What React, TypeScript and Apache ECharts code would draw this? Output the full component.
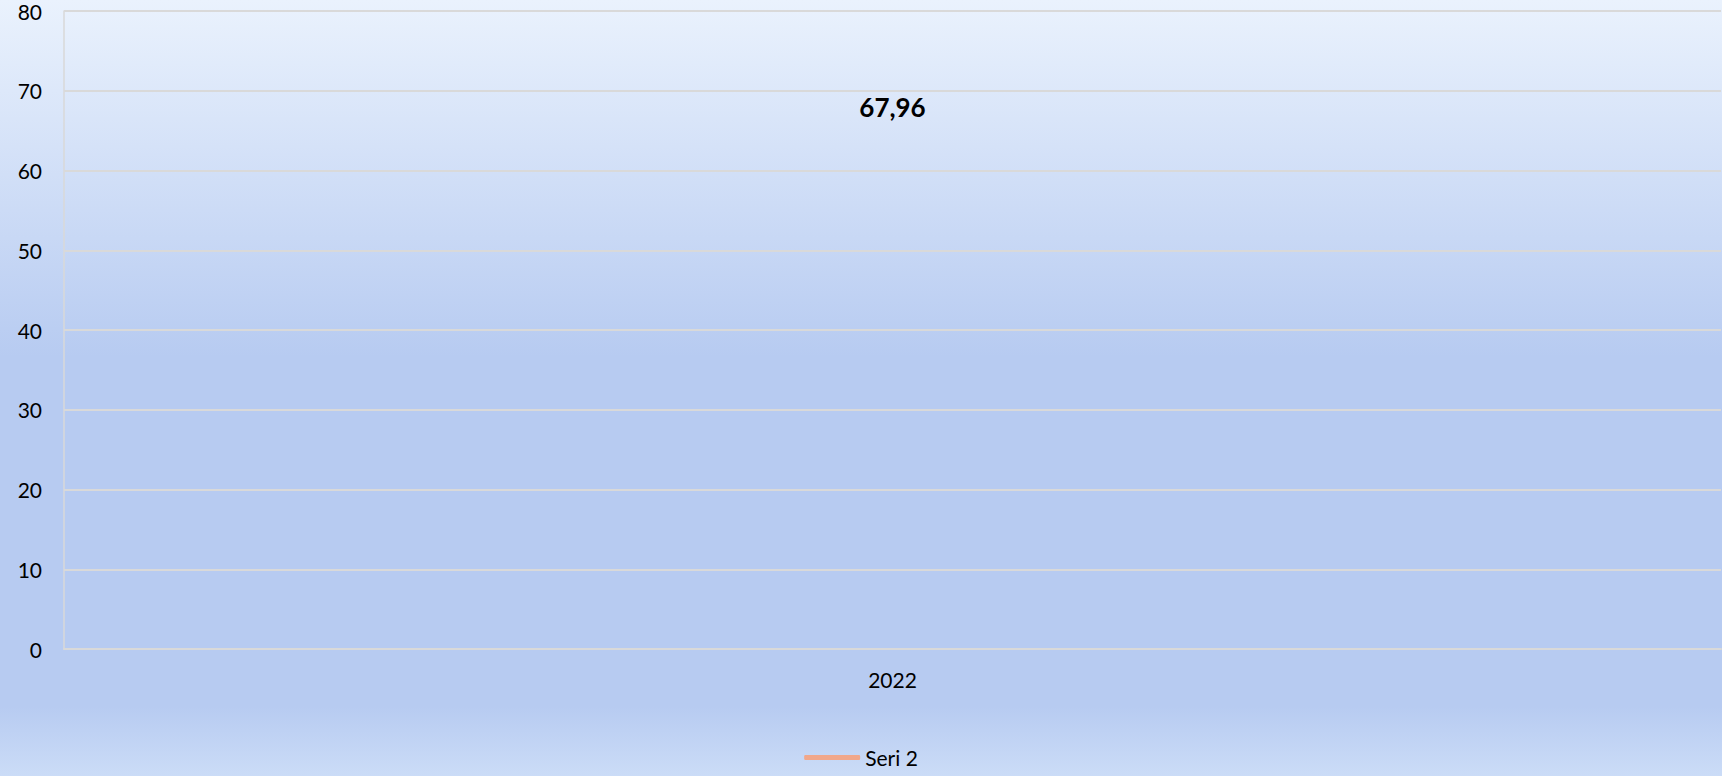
import React, { useEffect, useRef } from "react";
import * as echarts from "echarts";

const categories = ["2022"];
const seri2 = [67.96];
const seriesName = "Seri 2";
const yMin = 0;
const yMax = 80;
const yInterval = 10;

const FONT = "Lato, 'Open Sans', sans-serif";

export default function App() {
  const ref = useRef<HTMLDivElement>(null);
  useEffect(() => {
    document.body.style.margin = "0";
    const chart = echarts.init(ref.current!, null, { renderer: "svg" });
    chart.setOption({
      animation: false,
      backgroundColor: {
        type: "linear",
        x: 0,
        y: 0,
        x2: 0,
        y2: 1,
        colorStops: [
          { offset: 0, color: "#eaf2fd" },
          { offset: 0.46, color: "#b7cbf1" },
          { offset: 0.91, color: "#b7cbf1" },
          { offset: 1, color: "#cbdcf7" },
        ],
      },
      grid: { left: 64, top: 11, right: 1, bottom: 127 },
      legend: {
        bottom: 3,
        left: "center",
        icon: "roundRect",
        itemWidth: 56,
        itemHeight: 5,
        itemGap: 10,
        itemStyle: { color: "#f1a78a" },
        textStyle: { fontFamily: FONT, fontSize: 21, color: "#000" },
        data: [seriesName],
      },
      xAxis: {
        type: "category",
        data: categories,
        boundaryGap: true,
        axisLine: { show: true, lineStyle: { color: "#d9d9d9", width: 2 } },
        axisTick: { show: false },
        axisLabel: { fontFamily: FONT, fontSize: 21, color: "#000", margin: 20 },
      },
      yAxis: {
        type: "value",
        min: yMin,
        max: yMax,
        interval: yInterval,
        axisLine: { show: true, lineStyle: { color: "#d9d9d9", width: 1.5 } },
        axisTick: { show: false },
        splitLine: { show: true, lineStyle: { color: "#d9d9d9", width: 2 } },
        axisLabel: { fontFamily: FONT, fontSize: 21, color: "#000", margin: 22 },
      },
      series: [
        {
          name: seriesName,
          type: "line",
          data: seri2,
          color: "#f1a78a",
          symbol: "circle",
          symbolSize: 0.01,
          lineStyle: { width: 5, color: "#f1a78a" },
          label: {
            show: true,
            position: "inside",
            fontFamily: FONT,
            fontSize: 26,
            fontWeight: "bold",
            color: "#000",
            formatter: (p: any) => String(p.value.toFixed(2)).replace(".", ","),
          },
        },
      ],
    });
    return () => chart.dispose();
  }, []);
  return (
    <div
      ref={ref}
      style={{ position: "absolute", left: 0, top: 0, width: 1722, height: 776 }}
    />
  );
}
